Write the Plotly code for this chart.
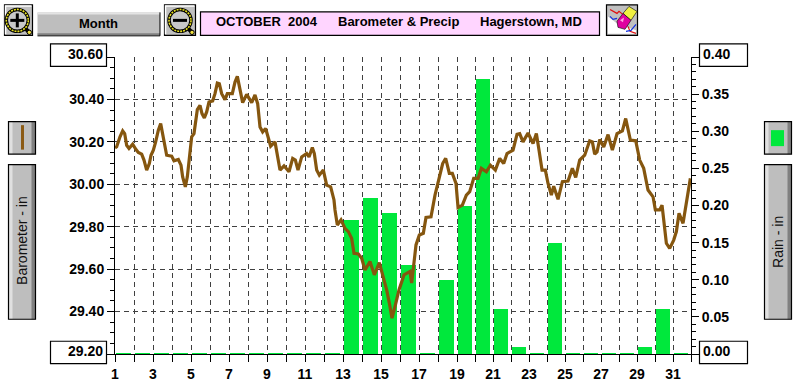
import numpy as np
import plotly.graph_objects as go

# ---- data ----
rain_days = list(range(1, 32))
rain_in = [0,0,0,0,0,0,0,0,0,0,0,0,0.18,0.21,0.19,0.12,0,0.10,0.20,0.37,0.06,0.01,0,0.15,0,0,0,0,0.01,0.06,0]

baro_days = [1.0,1.088,1.263,1.404,1.509,1.614,1.737,1.93,2.105,2.228,2.404,2.526,2.667,2.807,2.895,3.018,3.14,3.281,3.404,3.509,
 3.632,3.719,3.982,4.105,4.333,4.474,4.561,4.702,4.807,4.912,5.035,5.158,5.263,5.333,5.474,5.579,5.702,5.825,5.947,6.14,
 6.263,6.386,6.491,6.614,6.789,6.912,7.175,7.316,7.439,7.544,7.719,7.93,8.193,8.368,8.509,8.632,8.772,8.93,9.07,9.193,
 9.421,9.561,9.684,9.895,10.158,10.351,10.491,10.632,10.825,11.088,11.211,11.386,11.491,11.614,11.754,11.965,12.14,12.351,12.526,12.579,
 12.702,12.895,13.105,13.281,13.456,13.579,13.807,13.982,14.158,14.421,14.649,14.912,15.088,15.298,15.439,15.579,15.737,15.947,16.211,16.526,
 16.614,16.702,16.842,17.018,17.228,17.368,17.632,17.842,18.07,18.246,18.404,18.596,18.754,18.947,19.058,19.298,19.52,19.706,19.928,20.169,
 20.354,20.632,20.854,21.131,21.372,21.594,21.779,22.113,22.335,22.483,22.668,22.946,23.224,23.409,23.557,23.724,23.909,24.057,24.242,24.372,
 24.613,24.854,25.168,25.409,25.594,25.816,26.094,26.372,26.52,26.65,26.779,26.928,27.15,27.391,27.631,27.891,28.187,28.372,28.631,28.928,
 29.15,29.372,29.613,29.891,30.02,30.261,30.391,30.539,30.631,30.816,31.039,31.187,31.335,31.557,31.742,31.965]
baro_in = [30.172,30.177,30.224,30.252,30.239,30.184,30.169,30.189,30.164,30.15,30.142,30.114,30.067,30.098,30.137,30.161,30.2,30.255,30.286,30.239,
 30.177,30.137,30.133,30.111,30.117,30.09,30.035,29.988,30.035,30.129,30.224,30.239,30.302,30.352,30.372,30.333,30.313,30.341,30.388,30.393,
 30.427,30.477,30.474,30.427,30.399,30.427,30.427,30.482,30.509,30.459,30.385,30.424,30.385,30.421,30.38,30.27,30.247,30.263,30.224,30.18,
 30.2,30.129,30.067,30.087,30.059,30.122,30.114,30.067,30.129,30.145,30.129,30.173,30.145,30.067,30.043,30.067,29.996,29.988,29.926,29.879,
 29.808,29.832,29.792,29.777,29.745,29.675,29.672,29.651,29.596,29.636,29.573,29.631,29.573,29.502,29.44,29.369,29.424,29.502,29.573,29.589,
 29.534,29.604,29.714,29.761,29.769,29.844,29.847,29.949,30.035,30.098,30.122,30.051,30.051,30.004,29.891,29.902,29.949,29.965,30.028,30.028,
 30.075,30.059,30.09,30.067,30.122,30.098,30.145,30.161,30.236,30.239,30.2,30.242,30.192,30.239,30.161,30.067,30.067,30.004,29.949,29.991,
 29.929,30.012,30.015,30.075,30.032,30.114,30.137,30.205,30.2,30.142,30.153,30.211,30.176,30.234,30.161,30.239,30.252,30.31,30.208,30.205,
 30.114,30.075,29.973,29.941,29.879,29.879,29.902,29.808,29.722,29.698,29.737,29.777,29.863,29.816,29.91,30.028]

tick_days = list(range(1, 33))
tick_day_labels = [str(d) if d % 2 else "" for d in tick_days]
baro_ticks = [29.2, 29.4, 29.6, 29.8, 30.0, 30.2, 30.4, 30.6]
baro_tick_labels = ["", "29.40", "29.60", "29.80", "30.00", "30.20", "30.40", ""]
rain_ticks = [0, 0.05, 0.10, 0.15, 0.20, 0.25, 0.30, 0.35, 0.40]
rain_tick_labels = ["", "0.05", "0.10", "0.15", "0.20", "0.25", "0.30", "0.35", ""]

# ---- geometry ----
W, H = 799, 384
L, R, T, B = 115, 691, 56.7, 354.3
def px(x): return (x - L) / (R - L)
def py(y): return (B - y) / (B - T)
# the original's day columns are 19 px wide up to day 19, then 18 px
def day_pos(d): return np.interp(d, [1, 19, 32], [0, 342, 576])

FONT = "Liberation Sans"
shapes, annots = [], []
def rect(x0, y0, x1, y1, fill=None, line=None, lw=1):
    shapes.append(dict(type="rect", xref="paper", yref="paper", x0=px(x0), x1=px(x1), y0=py(y1), y1=py(y0),
                       fillcolor=fill or "rgba(0,0,0,0)", line=dict(color=line or "rgba(0,0,0,0)", width=lw if line else 0), layer="above"))
def poly(pts, fill=None, line=None, lw=1):
    path = "M " + " L ".join(f"{px(x):.5f},{py(y):.5f}" for x, y in pts)
    if fill: path += " Z"
    shapes.append(dict(type="path", xref="paper", yref="paper", path=path, fillcolor=fill or "rgba(0,0,0,0)",
                       line=dict(color=line or "rgba(0,0,0,0)", width=lw if line else 0), layer="above"))
def circle(cx, cy, r, fill=None, line=None, lw=1, dash=None):
    ln = dict(color=line or "rgba(0,0,0,0)", width=lw if line else 0)
    if dash: ln["dash"] = dash
    shapes.append(dict(type="circle", xref="paper", yref="paper", x0=px(cx - r), x1=px(cx + r), y0=py(cy + r), y1=py(cy - r),
                       fillcolor=fill or "rgba(0,0,0,0)", line=ln, layer="above"))
def text(x, y, s, size=14, bold=True, color="#000", angle=0, anchor="center"):
    annots.append(dict(xref="paper", yref="paper", x=px(x), y=py(y), text=s, showarrow=False, textangle=angle,
                       xanchor=anchor, yanchor="middle",
                       font=dict(family=FONT, size=size, color=color, weight=700 if bold else 400)))

def button(x0, y0, x1, y1, horizontal=False):
    rect(x0, y0, x1, y1, fill="#BEBEBE")
    if horizontal:
        rect(x0, y0, x1, y0 + 2, fill="#E4E4E4")
        rect(x0, y1 - 2, x1, y1, fill="#808080")
    else:
        rect(x0, y0, x0 + 4, y1, fill="#E0E0E0")
        rect(x1 - 4, y0, x1, y1, fill="#808080")

def magnifier(x0, x1, cx, symbol):
    rect(x0, 4.5, x1, 35, fill="#C0C0C0", line="#000", lw=1.2)
    poly([(x0 + 1, 34), (x0 + 1, 5.5), (x1 - 1, 5.5)], line="#FFFFFF", lw=1.5)
    poly([(cx + 8, 28), (cx + 12, 32)], line="#000", lw=4)
    circle(cx + 12, 32, 2.2, fill="#F0E040", line="#000", lw=1)
    circle(cx, 20, 11, fill="#C8C8C8", line="#000", lw=3.5)
    circle(cx, 20, 11, line="#E8E020", lw=1.6, dash="2px,1px")
    rect(cx - 7, 18.5, cx + 7, 21.5, fill="#000")
    if symbol == "+":
        rect(cx - 1.5, 13, cx + 1.5, 27, fill="#000")

# ---- top bar ----
magnifier(4.5, 32.5, 17.3, "+")
button(37.5, 12, 160, 35, horizontal=True)
poly([(160, 12), (160, 35.5), (37.5, 35.5)], line="#000", lw=1)
text(98, 23.5, "Month", size=13)
magnifier(164.5, 195.5, 180, "-")
rect(200.5, 11.5, 599.5, 35, fill="#FFD5FF", line="#000", lw=1.2)
text(267, 21.5, "OCTOBER\u00a0\u00a02004", size=13)
text(398.5, 21.5, "Barometer & Precip", size=13)
text(531, 21.5, "Hagerstown, MD", size=13)

# eraser icon
rect(606.5, 4.5, 637.5, 35, fill="#C0C0C0", line="#000", lw=1.2)
poly([(608, 33.5), (636, 33.5), (636, 30), (618, 24), (608, 16)], fill="#FFFFFF")
poly([(610, 9), (617, 13), (619, 11), (624, 15)], line="#E01010", lw=1.2)
poly([(628, 26), (630, 31), (636, 33)], line="#E01010", lw=1.2)
poly([(610, 16), (613, 19), (617, 18)], line="#1030E0", lw=1.2)
poly([(626, 31), (631, 30), (636, 24)], line="#1030E0", lw=1.2)
poly([(629, 6), (637, 11), (631, 20), (623, 13)], fill="#F0F040", line="#000", lw=0.6)
poly([(623, 13), (631, 20), (625, 29), (618, 27), (617, 21)], fill="#E000A0", line="#000", lw=0.6)
poly([(620, 20), (624, 17), (623, 22)], fill="#FFA0E0")

# ---- side controls ----
button(8.5, 121.5, 35.5, 154)
rect(8.5, 121.5, 35.5, 154, line="#000", lw=1.2)
rect(21, 125, 24, 149.5, fill="#8B5A14")
button(8.5, 164.5, 35.5, 319.5)
rect(8.5, 164.5, 35.5, 319.5, line="#000", lw=1.2)
text(22, 241, "Barometer - in", size=14, bold=False, angle=-90, color="#111")

button(764.5, 121.5, 791.5, 154)
rect(764.5, 121.5, 791.5, 154, line="#000", lw=1.2)
rect(771, 130, 784, 146, fill="#00E83C")
button(764.5, 164.5, 791.5, 319.5)
rect(764.5, 164.5, 791.5, 319.5, line="#000", lw=1.2)
text(778, 242, "Rain - in", size=14, bold=False, angle=-90, color="#111")

# ---- boxed end labels ----
for x0, x1, y0, y1 in [(50.5, 106.5, 43.5, 66), (50.5, 106.5, 341.5, 364), (699.5, 747.5, 43.5, 66), (699.5, 747.5, 341.5, 364)]:
    rect(x0, y0, x1, y1, fill="#FFFFFF", line="#000", lw=1.2)
text(104.5, 53.5, f"{baro_ticks[-1]:.2f}", anchor="right")
text(104.5, 351.5, f"{baro_ticks[0]:.2f}", anchor="right")
text(701, 53.5, f"{rain_ticks[-1]:.2f}", anchor="left")
text(701, 351.5, f"{rain_ticks[0]:.2f}", anchor="left")

# ---- traces ----
rain_arr = np.array(rain_in)
bar_x = day_pos(np.array(rain_days) + 0.45)
bar_w = [15 if d <= 18 else 14 for d in rain_days]
bars = go.Bar(x=bar_x, y=rain_in, width=bar_w, yaxis="y", name="Rain",
              marker=dict(color="#00E83C", line=dict(color="#00E83C", width=np.where(rain_arr == 0, 2, 0).tolist())))
line = go.Scatter(x=day_pos(np.array(baro_days)), y=baro_in, yaxis="y2", mode="lines", name="Barometer",
                  line=dict(color="#85560F", width=3.2))

tick_font = dict(family=FONT, size=14, color="#000", weight=700)
grid = dict(gridcolor="#404040", griddash="5px,4px", gridwidth=1)
fig = go.Figure([bars, line])
fig.update_layout(
    width=W, height=H, showlegend=False, paper_bgcolor="#FFFFFF", plot_bgcolor="#FFFFFF",
    margin=dict(l=L, r=W - R, t=T, b=H - B, autoexpand=False),
    bargap=0, shapes=shapes, annotations=annots,
    xaxis=dict(range=[0, 576], tickmode="array", tickvals=day_pos(np.array(tick_days)).tolist(), ticktext=tick_day_labels,
               ticks="outside", ticklen=7, tickcolor="#000", tickwidth=1, tickfont=tick_font, tickangle=0,
               showline=True, linecolor="#000", linewidth=1, showgrid=True, zeroline=False, **grid),
    yaxis=dict(range=[0, 0.40], side="right", tickmode="array", tickvals=rain_ticks, ticktext=rain_tick_labels,
               ticks="outside", ticklen=7, tickcolor="#000", tickwidth=1, tickfont=tick_font,
               minor=dict(tickmode="linear", tick0=0, dtick=0.01, ticks="outside", ticklen=4, tickcolor="#000", showgrid=False),
               showline=True, linecolor="#000", linewidth=1, showgrid=False, zeroline=False),
    yaxis2=dict(range=[29.2, 30.6], side="left", overlaying="y", anchor="x", tickmode="array", tickvals=baro_ticks, ticktext=baro_tick_labels,
                ticks="outside", ticklen=7, tickcolor="#000", tickwidth=1, tickfont=tick_font,
                minor=dict(tickmode="linear", tick0=29.2, dtick=0.05, ticks="outside", ticklen=4, tickcolor="#000", showgrid=False),
                showline=True, linecolor="#000", linewidth=1, showgrid=True, zeroline=False, **grid),
)
fig.write_html("out.html", config={"displayModeBar": False}, post_script="document.body.style.margin='0';document.body.style.overflow='hidden';")
